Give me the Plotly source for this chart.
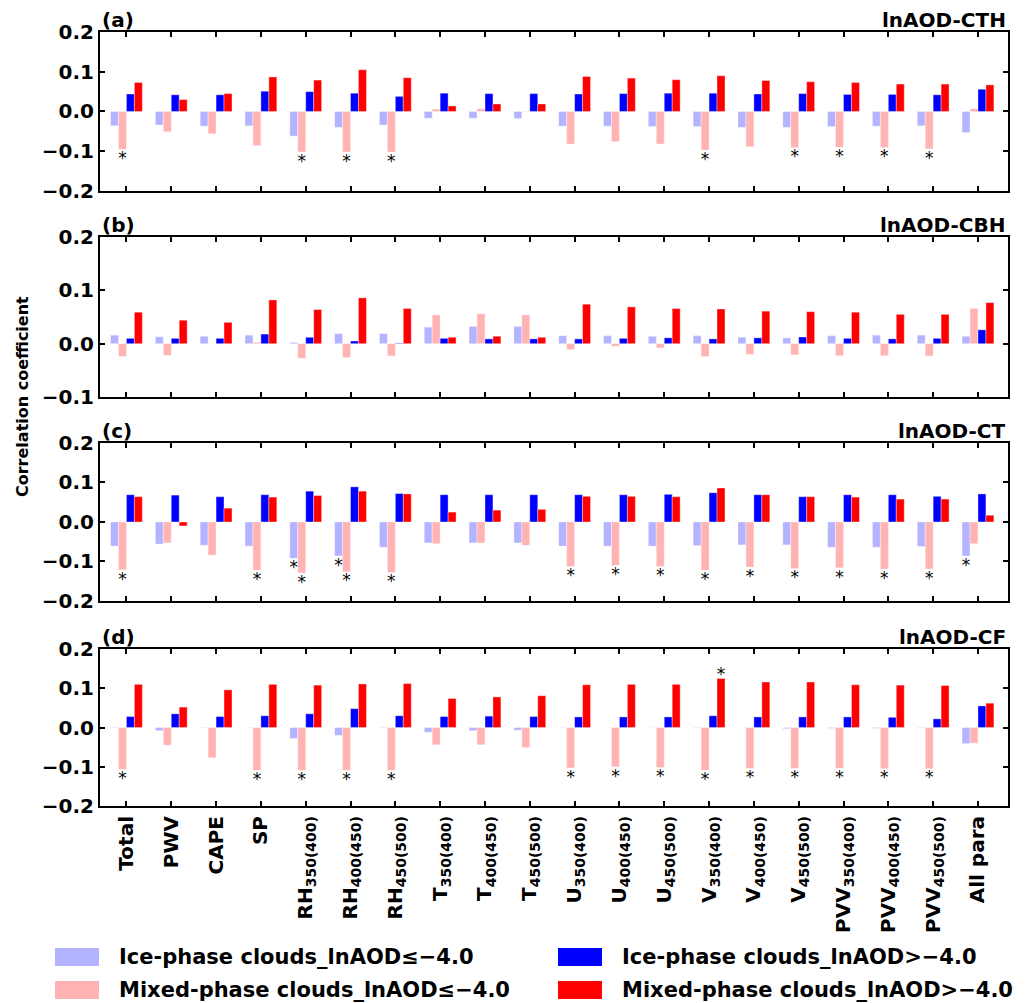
import plotly.graph_objects as go

# ---------------- data ----------------
categories = ["Total", "PWV", "CAPE", "SP",
              "RH<sub>350(400)</sub>", "RH<sub>400(450)</sub>", "RH<sub>450(500)</sub>",
              "T<sub>350(400)</sub>", "T<sub>400(450)</sub>", "T<sub>450(500)</sub>",
              "U<sub>350(400)</sub>", "U<sub>400(450)</sub>", "U<sub>450(500)</sub>",
              "V<sub>350(400)</sub>", "V<sub>400(450)</sub>", "V<sub>450(500)</sub>",
              "PVV<sub>350(400)</sub>", "PVV<sub>400(450)</sub>", "PVV<sub>450(500)</sub>",
              "All para"]

series_names = ["Ice-phase clouds_lnAOD≤−4.0", "Mixed-phase clouds_lnAOD≤−4.0",
                "Ice-phase clouds_lnAOD>−4.0", "Mixed-phase clouds_lnAOD>−4.0"]
series_colors = ["#b3b3ff", "#ffb3b3", "#0000ff", "#ff0000"]

# (a) lnAOD-CTH
a_ice_lo = [-0.036, -0.034, -0.037, -0.036, -0.062, -0.040, -0.034, -0.017, -0.017, -0.018,
            -0.037, -0.037, -0.038, -0.038, -0.040, -0.040, -0.038, -0.037, -0.036, -0.053]
a_mix_lo = [-0.095, -0.051, -0.056, -0.086, -0.102, -0.102, -0.102, 0.006, 0.007, 0.001,
            -0.082, -0.076, -0.082, -0.097, -0.089, -0.091, -0.090, -0.091, -0.094, 0.007]
a_ice_hi = [0.044, 0.042, 0.042, 0.051, 0.050, 0.046, 0.038, 0.046, 0.045, 0.045,
            0.044, 0.045, 0.046, 0.046, 0.044, 0.045, 0.043, 0.043, 0.042, 0.056]
a_mix_hi = [0.073, 0.030, 0.045, 0.087, 0.079, 0.105, 0.085, 0.014, 0.019, 0.019,
            0.088, 0.084, 0.080, 0.090, 0.078, 0.075, 0.073, 0.069, 0.069, 0.067]

# (b) lnAOD-CBH
b_ice_lo = [0.016, 0.013, 0.014, 0.016, 0.0025, 0.019, 0.019, 0.031, 0.0325, 0.0325,
            0.015, 0.015, 0.014, 0.015, 0.012, 0.011, 0.015, 0.016, 0.016, 0.014]
b_mix_lo = [-0.024, -0.022, 0.0, 0.0025, -0.0275, -0.026, -0.023, 0.054, 0.056, 0.054,
            -0.011, -0.005, -0.008, -0.024, -0.020, -0.021, -0.0225, -0.0225, -0.023, 0.066]
b_ice_hi = [0.010, 0.010, 0.010, 0.018, 0.012, 0.005, 0.001, 0.010, 0.009, 0.009,
            0.009, 0.010, 0.011, 0.009, 0.011, 0.0125, 0.010, 0.009, 0.010, 0.026]
b_mix_hi = [0.059, 0.044, 0.040, 0.082, 0.064, 0.086, 0.066, 0.012, 0.014, 0.012,
            0.074, 0.069, 0.066, 0.065, 0.061, 0.060, 0.059, 0.055, 0.055, 0.077]

# (c) lnAOD-CT
c_ice_lo = [-0.061, -0.056, -0.059, -0.061, -0.092, -0.086, -0.064, -0.053, -0.053, -0.053,
            -0.061, -0.061, -0.061, -0.060, -0.058, -0.058, -0.064, -0.064, -0.062, -0.086]
c_mix_lo = [-0.121, -0.053, -0.084, -0.122, -0.129, -0.126, -0.128, -0.055, -0.053, -0.059,
            -0.113, -0.110, -0.113, -0.122, -0.114, -0.118, -0.116, -0.119, -0.119, -0.055]
c_ice_hi = [0.069, 0.068, 0.064, 0.069, 0.078, 0.089, 0.072, 0.069, 0.069, 0.069,
            0.069, 0.069, 0.070, 0.074, 0.069, 0.064, 0.069, 0.069, 0.065, 0.071]
c_mix_hi = [0.064, -0.010, 0.035, 0.063, 0.067, 0.078, 0.071, 0.025, 0.030, 0.032,
            0.065, 0.065, 0.064, 0.086, 0.069, 0.064, 0.063, 0.058, 0.058, 0.017]

# (d) lnAOD-CF
d_ice_lo = [-0.001, -0.008, -0.001, -0.0005, -0.028, -0.020, -0.001, -0.012, -0.008, -0.007,
            -0.0005, -0.0005, -0.0005, -0.001, -0.0005, -0.003, -0.002, -0.002, -0.001, -0.041]
d_mix_lo = [-0.107, -0.045, -0.077, -0.109, -0.109, -0.109, -0.109, -0.044, -0.044, -0.051,
            -0.103, -0.100, -0.102, -0.109, -0.104, -0.104, -0.104, -0.105, -0.105, -0.040]
d_ice_hi = [0.028, 0.035, 0.028, 0.030, 0.035, 0.048, 0.030, 0.028, 0.029, 0.028,
            0.027, 0.027, 0.027, 0.030, 0.027, 0.027, 0.027, 0.026, 0.022, 0.055]
d_mix_hi = [0.110, 0.052, 0.096, 0.110, 0.108, 0.111, 0.112, 0.074, 0.078, 0.081,
            0.109, 0.110, 0.110, 0.125, 0.116, 0.116, 0.109, 0.108, 0.107, 0.062]

# significance (*) : indices of categories, per series (0..3)
a_sig = {1: [0, 4, 5, 6, 13, 15, 16, 17, 18]}
b_sig = {}
c_sig = {0: [4, 5, 19], 1: [0, 3, 4, 5, 6, 10, 11, 12, 13, 14, 15, 16, 17, 18]}
d_sig = {1: [0, 3, 4, 5, 6, 10, 11, 12, 13, 14, 15, 16, 17, 18], 3: [13]}

panel_tags = ["(a)", "(b)", "(c)", "(d)"]
panel_titles = ["lnAOD-CTH", "lnAOD-CBH", "lnAOD-CT", "lnAOD-CF"]
panel_ranges = [[-0.2, 0.2], [-0.1, 0.2], [-0.2, 0.2], [-0.2, 0.2]]
panel_ticks = [[-0.2, -0.1, 0.0, 0.1, 0.2], [-0.1, 0.0, 0.1, 0.2],
               [-0.2, -0.1, 0.0, 0.1, 0.2], [-0.2, -0.1, 0.0, 0.1, 0.2]]
panels = [
    ([a_ice_lo, a_mix_lo, a_ice_hi, a_mix_hi], a_sig),
    ([b_ice_lo, b_mix_lo, b_ice_hi, b_mix_hi], b_sig),
    ([c_ice_lo, c_mix_lo, c_ice_hi, c_mix_hi], c_sig),
    ([d_ice_lo, d_mix_lo, d_ice_hi, d_mix_hi], d_sig),
]

# ---------------- layout geometry ----------------
W, H = 1034, 1003
ML, MR, MT, MB = 100, 26, 32, 197
domains = [[0.7946, 1.0], [0.5284, 0.7351], [0.2649, 0.4690], [0.0, 0.2028]]
BARGAP = 0.29
bw = (1 - BARGAP) / 4
offsets = [-1.5 * bw, -0.5 * bw, 0.5 * bw, 1.5 * bw]
FONT = "DejaVu Sans"

fig = go.Figure()
xs = list(range(len(categories)))

for p, (series, sig) in enumerate(panels):
    xa = "x" if p == 0 else f"x{p+1}"
    ya = "y" if p == 0 else f"y{p+1}"
    for s, vals in enumerate(series):
        fig.add_trace(go.Bar(
            x=xs, y=vals, name=series_names[s], xaxis=xa, yaxis=ya,
            marker=dict(color=series_colors[s], line=dict(width=0.6, color="rgba(255,255,255,0.6)")),
            offsetgroup=str(s), showlegend=False))
    # significance markers
    rng = panel_ranges[p]
    px_per_unit = (domains[p][1] - domains[p][0]) * (H - MT - MB) / (rng[1] - rng[0])
    for s, idxs in sig.items():
        vals = series[s]
        sx, sy = [], []
        for i in idxs:
            v = vals[i]
            sx.append(i + offsets[s])
            if v < 0:
                sy.append(v - 10.5 / px_per_unit)
            else:
                sy.append(v + 2.5 / px_per_unit)
        fig.add_trace(go.Scatter(
            x=sx, y=sy, mode="text", text=["*"] * len(sx), xaxis=xa, yaxis=ya,
            textposition="middle center",
            textfont=dict(family=FONT, size=17, color="black"),
            showlegend=False, hoverinfo="skip"))

axis_common = dict(showline=True, linewidth=2, linecolor="black", mirror="ticks",
                   ticks="inside", ticklen=5, tickwidth=2, tickcolor="black",
                   showgrid=False, zeroline=False)

layout = dict(
    width=W, height=H, margin=dict(l=ML, r=MR, t=MT, b=MB),
    paper_bgcolor="white", plot_bgcolor="white",
    barmode="group", bargap=BARGAP, bargroupgap=0,
    font=dict(family=FONT, color="black"),
    showlegend=False,
)
for p in range(4):
    xk = "xaxis" if p == 0 else f"xaxis{p+1}"
    yk = "yaxis" if p == 0 else f"yaxis{p+1}"
    ya = "y" if p == 0 else f"y{p+1}"
    xa = "x" if p == 0 else f"x{p+1}"
    layout[xk] = dict(axis_common, domain=[0, 1], anchor=ya, range=[-0.59, 19.67],
                      tickmode="array", tickvals=xs, ticktext=categories,
                      showticklabels=(p == 3), tickangle=-90,
                      tickfont=dict(family=FONT, size=20, weight="bold", color="black"))
    layout[yk] = dict(axis_common, domain=domains[p], anchor=xa, range=panel_ranges[p],
                      tickmode="array", tickvals=panel_ticks[p],
                      ticktext=[("−" if t < 0 else "") + f"{abs(t):.1f}" for t in panel_ticks[p]],
                      tickfont=dict(family=FONT, size=20, weight="bold", color="black"))
fig.update_layout(**layout)

# panel labels
for p in range(4):
    fig.add_annotation(x=0, y=domains[p][1], xref="paper", yref="paper",
                       text=panel_tags[p], showarrow=False, xanchor="left", yanchor="bottom",
                       yshift=-2, font=dict(family=FONT, size=20, weight="bold"))
    fig.add_annotation(x=1, y=domains[p][1], xref="paper", yref="paper",
                       text=panel_titles[p], showarrow=False, xanchor="right", yanchor="bottom",
                       yshift=-2, font=dict(family=FONT, size=20, weight="bold"))

# y-axis title
fig.add_annotation(x=-0.0859, y=0.5284, xref="paper", yref="paper",
                   text="Correlation coefficient", textangle=-90, showarrow=False,
                   xanchor="center", yanchor="middle",
                   font=dict(family=FONT, size=16, weight="bold"))

# custom legend (2 columns x 2 rows)
PH = H - MT - MB
PW = W - ML - MR
def px_x(xp):
    return (xp - ML) / PW
def px_y(yp):
    return (H - MB - yp) / PH

legend_pos = [(55, 957), (55, 990), (558, 957), (558, 990)]
for s in range(4):
    lx, ly = legend_pos[s]
    fig.add_shape(type="rect", xref="paper", yref="paper",
                  x0=px_x(lx), x1=px_x(lx + 44), y0=px_y(ly + 9), y1=px_y(ly - 9),
                  fillcolor=series_colors[s], line=dict(width=0))
    fig.add_annotation(x=px_x(lx + 62), y=px_y(ly), xref="paper", yref="paper",
                       text=series_names[s], showarrow=False, xanchor="left", yanchor="middle",
                       font=dict(family=FONT, size=21, weight="bold"))

fig.write_html("out.html")
